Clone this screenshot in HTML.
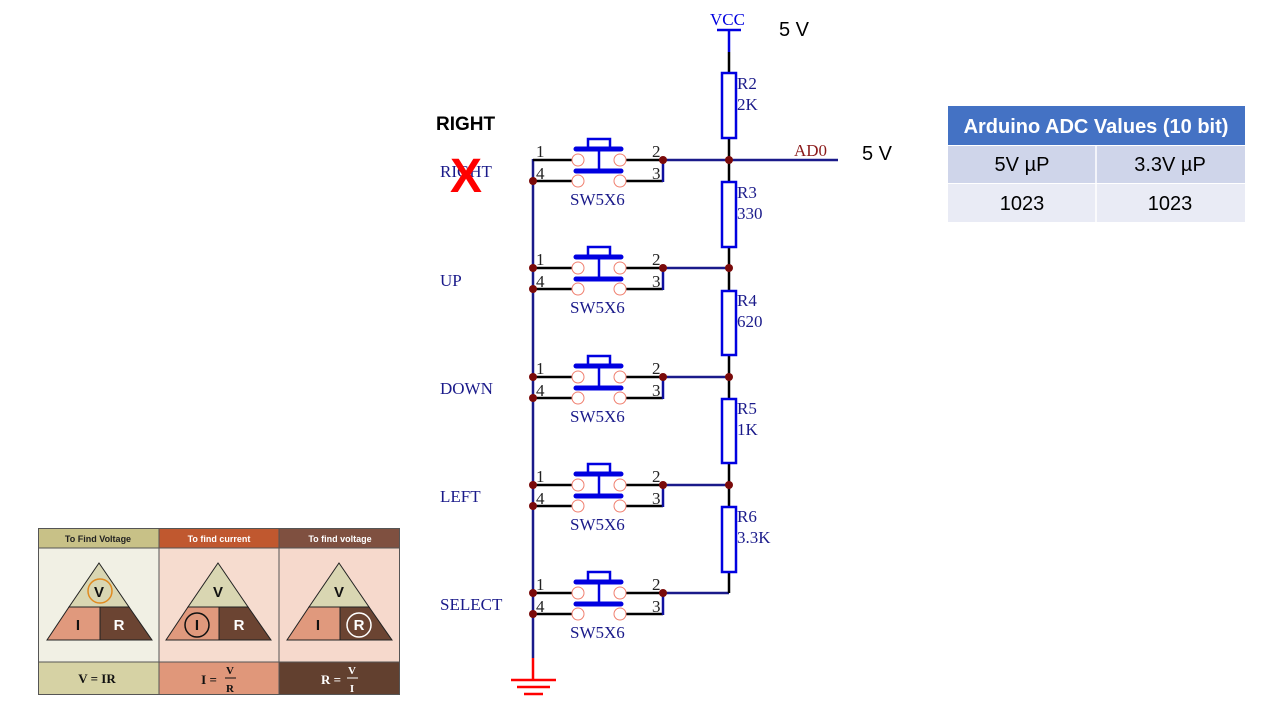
<!DOCTYPE html>
<html><head><meta charset="utf-8"><style>
html,body{margin:0;padding:0;background:#fff;}
svg{display:block;}
</style></head><body>
<svg width="1280" height="720" viewBox="0 0 1280 720" xmlns="http://www.w3.org/2000/svg">
<defs>
<g id="sw">
  <line x1="533" y1="160" x2="572" y2="160" stroke="#000" stroke-width="2.5"/>
  <line x1="533" y1="181" x2="572" y2="181" stroke="#000" stroke-width="2.5"/>
  <line x1="626" y1="160" x2="663" y2="160" stroke="#000" stroke-width="2.5"/>
  <line x1="626" y1="181" x2="663" y2="181" stroke="#000" stroke-width="2.5"/>
  <line x1="663" y1="160" x2="663" y2="182" stroke="#1010a0" stroke-width="2.5"/>
  <line x1="663" y1="160" x2="729" y2="160" stroke="#1a1a8a" stroke-width="2.5"/>
  <circle cx="578" cy="160" r="6" fill="none" stroke="#f08070" stroke-width="1"/>
  <circle cx="620" cy="160" r="6" fill="none" stroke="#f08070" stroke-width="1"/>
  <circle cx="578" cy="181" r="6" fill="none" stroke="#f08070" stroke-width="1"/>
  <circle cx="620" cy="181" r="6" fill="none" stroke="#f08070" stroke-width="1"/>
  <rect x="588" y="139" width="22" height="9" fill="none" stroke="#0000e0" stroke-width="2.5"/>
  <line x1="576" y1="149" x2="621" y2="149" stroke="#0000e0" stroke-width="5" stroke-linecap="round"/>
  <line x1="599" y1="149" x2="599" y2="171" stroke="#0000e0" stroke-width="2.5"/>
  <line x1="576" y1="171" x2="621" y2="171" stroke="#0000e0" stroke-width="5" stroke-linecap="round"/>
  <circle cx="663" cy="160" r="4" fill="#7a0a0a"/>
  <circle cx="533" cy="181" r="4" fill="#7a0a0a"/>
  <g font-family="Liberation Serif, serif" font-size="17" fill="#222">
    <text x="536" y="157">1</text><text x="536" y="179">4</text>
    <text x="652" y="157">2</text><text x="652" y="179">3</text>
  </g>
  <text x="570" y="205" font-family="Liberation Serif, serif" font-size="17" fill="#1a1a8a">SW5X6</text>
</g>
</defs>

<line x1="533" y1="159" x2="533" y2="658" stroke="#1a1a8a" stroke-width="2.5"/>
<line x1="533" y1="658" x2="533" y2="680" stroke="#ff0000" stroke-width="2.5"/>
<line x1="511" y1="680" x2="556" y2="680" stroke="#ff0000" stroke-width="2.5"/>
<line x1="517" y1="687" x2="550" y2="687" stroke="#ff0000" stroke-width="2.5"/>
<line x1="524" y1="694" x2="543" y2="694" stroke="#ff0000" stroke-width="2.5"/>

<use href="#sw"/>
<use href="#sw" transform="translate(0,108)"/>
<use href="#sw" transform="translate(0,217)"/>
<use href="#sw" transform="translate(0,325)"/>
<use href="#sw" transform="translate(0,433)"/>
<circle cx="533" cy="268" r="4" fill="#7a0a0a"/>
<circle cx="533" cy="377" r="4" fill="#7a0a0a"/>
<circle cx="533" cy="485" r="4" fill="#7a0a0a"/>
<circle cx="533" cy="593" r="4" fill="#7a0a0a"/>

<line x1="729" y1="30" x2="729" y2="52" stroke="#0000e0" stroke-width="2.5"/>
<line x1="717" y1="30" x2="741" y2="30" stroke="#0000e0" stroke-width="2.5"/>
<line x1="729" y1="52" x2="729" y2="593" stroke="#000" stroke-width="2.5"/>
<line x1="729" y1="160" x2="838" y2="160" stroke="#1a1a8a" stroke-width="2.5"/>
<g fill="#fff" stroke="#0000e0" stroke-width="2.5">
  <rect x="722" y="73" width="14" height="65"/>
  <rect x="722" y="182" width="14" height="65"/>
  <rect x="722" y="291" width="14" height="64"/>
  <rect x="722" y="399" width="14" height="64"/>
  <rect x="722" y="507" width="14" height="65"/>
</g>
<g fill="#7a0a0a">
  <circle cx="729" cy="160" r="4"/><circle cx="729" cy="268" r="4"/>
  <circle cx="729" cy="377" r="4"/><circle cx="729" cy="485" r="4"/>
</g>
<g font-family="Liberation Serif, serif" font-size="17" fill="#1a1a8a">
  <text x="737" y="89">R2</text><text x="737" y="110">2K</text>
  <text x="737" y="198">R3</text><text x="737" y="219">330</text>
  <text x="737" y="306">R4</text><text x="737" y="327">620</text>
  <text x="737" y="414">R5</text><text x="737" y="435">1K</text>
  <text x="737" y="522">R6</text><text x="737" y="543">3.3K</text>
  <text x="710" y="25" fill="#0000e0">VCC</text>
  <text x="794" y="156" fill="#8b1a1a">AD0</text>
  <text x="440" y="177">RIGHT</text>
  <text x="440" y="286">UP</text>
  <text x="440" y="394">DOWN</text>
  <text x="440" y="502">LEFT</text>
  <text x="440" y="610">SELECT</text>
</g>
<text x="466" y="192" font-family="Liberation Sans, sans-serif" font-size="48" font-weight="bold" fill="#ff0000" text-anchor="middle">X</text>
<g font-family="Liberation Sans, sans-serif" font-size="20" fill="#000">
  <text x="779" y="36">5 V</text>
  <text x="862" y="160">5 V</text>
  <text x="436" y="130" font-weight="bold" font-size="19">RIGHT</text>
</g>

<rect x="948" y="106" width="297" height="39" fill="#4472c4"/>
<rect x="948" y="146" width="297" height="37" fill="#cfd5ea"/>
<rect x="948" y="184" width="297" height="38" fill="#e9ebf5"/>
<line x1="1096" y1="146" x2="1096" y2="222" stroke="#fff" stroke-width="1.5"/>
<g font-family="Liberation Sans, sans-serif" text-anchor="middle">
  <text x="1096" y="133" font-size="20" font-weight="bold" fill="#fff">Arduino ADC Values (10 bit)</text>
  <text x="1022" y="171" font-size="20" fill="#000">5V µP</text>
  <text x="1170" y="171" font-size="20" fill="#000">3.3V µP</text>
  <text x="1022" y="210" font-size="20" fill="#000">1023</text>
  <text x="1170" y="210" font-size="20" fill="#000">1023</text>
</g>

<rect x="38" y="528" width="121" height="20" fill="#c8c187"/>
<rect x="159" y="528" width="120" height="20" fill="#c0582f"/>
<rect x="279" y="528" width="121" height="20" fill="#7f5040"/>
<rect x="38" y="548" width="121" height="114" fill="#f1f0e4"/>
<rect x="159" y="548" width="120" height="114" fill="#f6dccf"/>
<rect x="279" y="548" width="121" height="114" fill="#f6d9cc"/>
<rect x="38" y="662" width="121" height="33" fill="#d6d2a4"/>
<rect x="159" y="662" width="120" height="33" fill="#e0977a"/>
<rect x="279" y="662" width="121" height="33" fill="#62402f"/>
<rect x="38.5" y="528.5" width="361" height="166" fill="none" stroke="#555" stroke-width="1"/>
<line x1="159" y1="528" x2="159" y2="695" stroke="#555"/>
<line x1="279" y1="528" x2="279" y2="695" stroke="#555"/>
<line x1="38" y1="548" x2="400" y2="548" stroke="#555"/>
<line x1="38" y1="662" x2="400" y2="662" stroke="#555"/>
<g font-family="Liberation Sans, sans-serif" font-size="9" font-weight="bold" text-anchor="middle">
  <text x="98" y="542" fill="#222">To Find Voltage</text>
  <text x="219" y="542" fill="#fff">To find current</text>
  <text x="340" y="542" fill="#fff">To find voltage</text>
</g>
<g stroke="#222" stroke-width="1">
  <polygon points="99,563 129,607 69,607" fill="#d9d6b2"/>
  <polygon points="69,607 100,607 100,640 47,640" fill="#e0997d"/>
  <polygon points="100,607 129,607 152,640 100,640" fill="#6b4432"/>
  <polygon points="218,563 248,607 188,607" fill="#d9d6b2"/>
  <polygon points="188,607 219,607 219,640 166,640" fill="#e0997d"/>
  <polygon points="219,607 248,607 271,640 219,640" fill="#6b4432"/>
  <polygon points="339,563 369,607 309,607" fill="#d9d6b2"/>
  <polygon points="309,607 340,607 340,640 287,640" fill="#e0997d"/>
  <polygon points="340,607 369,607 392,640 340,640" fill="#6b4432"/>
</g>
<circle cx="100" cy="591" r="12" fill="none" stroke="#e08a20" stroke-width="1.5"/>
<circle cx="197" cy="625" r="12" fill="none" stroke="#111" stroke-width="1.5"/>
<circle cx="359" cy="625" r="12" fill="none" stroke="#fff" stroke-width="1.5"/>
<g font-family="Liberation Sans, sans-serif" font-size="15" font-weight="bold" text-anchor="middle">
  <text x="99" y="597" fill="#111">V</text><text x="78" y="630" fill="#111">I</text><text x="119" y="630" fill="#fff">R</text>
  <text x="218" y="597" fill="#111">V</text><text x="197" y="630" fill="#111">I</text><text x="239" y="630" fill="#fff">R</text>
  <text x="339" y="597" fill="#111">V</text><text x="318" y="630" fill="#111">I</text><text x="359" y="630" fill="#fff">R</text>
</g>
<g font-family="Liberation Serif, serif" font-size="13" font-weight="bold" text-anchor="middle">
  <text x="97" y="683" fill="#111">V = IR</text>
  <text x="209" y="684" fill="#111">I =</text>
  <text x="230" y="674" font-size="11" fill="#111">V</text>
  <line x1="225" y1="678" x2="236" y2="678" stroke="#111" stroke-width="1"/>
  <text x="230" y="692" font-size="11" fill="#111">R</text>
  <text x="331" y="684" fill="#fff">R =</text>
  <text x="352" y="674" font-size="11" fill="#fff">V</text>
  <line x1="347" y1="678" x2="358" y2="678" stroke="#fff" stroke-width="1"/>
  <text x="352" y="692" font-size="11" fill="#fff">I</text>
</g>
</svg>
</body></html>
